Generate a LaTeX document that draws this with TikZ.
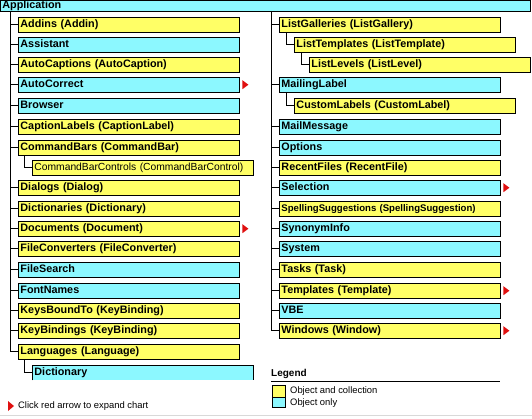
\documentclass[tikz,border=0pt]{standalone}
\usepackage{fontspec}
\setmainfont{Liberation Sans}
\usetikzlibrary{calc}
\definecolor{ycol}{HTML}{FFFF66}
\definecolor{ccol}{HTML}{8CF8FF}
\definecolor{arrowred}{HTML}{E01010}
\newcommand\redarr[1]{\fill[arrowred] ($(#1.east)+(2.5,-4.5)$) -- ++(6,4.5) -- ++(-6,4.5) -- cycle;}
\tikzset{
  obj/.style={draw=black, line width=0.9pt, minimum height=14.5pt, minimum width=221pt,
    text width=217pt, inner xsep=1.5pt, inner ysep=0pt, align=left, anchor=north west,
    font=\fontsize{10.8}{11}\selectfont\bfseries, text height=7.6pt, text depth=2pt},
  coll/.style={obj, fill=ycol},
  only/.style={obj, fill=ccol},
  plain/.style={font=\fontsize{9.4}{10}\selectfont},
  conn/.style={draw=black, line width=0.9pt},
}
\begin{document}
\begin{tikzpicture}[x=1pt,y=-1pt]
\useasboundingbox (0,0) rectangle (532,418);
\fill[white] (0,0) rectangle (532,418);
\draw[gray!30, line width=1pt] (0,415.5) -- (532,415.5);
% application bar
\node[draw=black, line width=0.9pt, fill=ccol, anchor=north west, minimum width=530pt, minimum height=11pt,
  inner sep=0pt, text width=526pt, inner xsep=2pt, align=left, font=\fontsize{10.8}{11}\selectfont\bfseries,
  text height=6.5pt, text depth=1pt] (app) at (0,0) {Application};
\coordinate (LT) at (10,11);
\coordinate (RT) at (271,11);
% left column
\node[coll] (addins) at (18,17) {Addins (Addin)};
\node[only] (assistant) at (18,37) {Assistant};
\node[coll] (autocap) at (18,57) {AutoCaptions (AutoCaption)};
\node[only] (autocorr) at (18,77) {AutoCorrect};
\node[only] (browser) at (18,98) {Browser};
\node[coll] (caplab) at (18,119) {CaptionLabels (CaptionLabel)};
\node[coll] (cmdbars) at (18,140) {CommandBars (CommandBar)};
\node[coll, font=\fontsize{10.3}{11}\selectfont] (cbc) at (32,160) {CommandBarControls (CommandBarControl)};
\node[coll] (dialogs) at (18,180) {Dialogs (Dialog)};
\node[coll] (dicts) at (18,201) {Dictionaries (Dictionary)};
\node[coll] (docs) at (18,221) {Documents (Document)};
\node[coll] (fileconv) at (18,241) {FileConverters (FileConverter)};
\node[only] (filesearch) at (18,262) {FileSearch};
\node[only] (fontnames) at (18,283) {FontNames};
\node[coll] (keysbound) at (18,303) {KeysBoundTo (KeyBinding)};
\node[coll] (keybind) at (18,323) {KeyBindings (KeyBinding)};
\node[coll] (langs) at (18,344) {Languages (Language)};
\node[only, draw=none] (dict) at (32,365) {Dictionary};
\draw[black, line width=0.9pt] (dict.south west) |- (dict.north east) -- (dict.south east);
% left connectors
\draw[conn] (LT) -- (langs.west -| LT);
\foreach \n in {addins,assistant,autocap,autocorr,browser,caplab,cmdbars,dialogs,dicts,docs,fileconv,filesearch,fontnames,keysbound,keybind,langs}
  \draw[conn] (\n.west -| LT) -- (\n.west);
\draw[conn] ($(cmdbars.south west)+(6,0)$) |- (cbc.west);
\draw[conn] ($(langs.south west)+(6,0)$) |- (dict.west);
% right column
\node[coll] (listgal) at (279,17) {ListGalleries (ListGallery)};
\node[coll] (listtpl) at (294,37) {ListTemplates (ListTemplate)};
\node[coll] (listlev) at (309,57) {ListLevels (ListLevel)};
\node[only] (mailing) at (279,77) {MailingLabel};
\node[coll] (custlab) at (294,98) {CustomLabels (CustomLabel)};
\node[only] (mailmsg) at (279,119) {MailMessage};
\node[only] (options) at (279,140) {Options};
\node[coll] (recent) at (279,160) {RecentFiles (RecentFile)};
\node[only] (selection) at (279,180) {Selection};
\node[coll, font=\fontsize{9.6}{11}\selectfont\bfseries] (spelling) at (279,201) {SpellingSuggestions (SpellingSuggestion)};
\node[only] (synonym) at (279,221) {SynonymInfo};
\node[only] (system) at (279,241) {System};
\node[coll] (tasks) at (279,262) {Tasks (Task)};
\node[coll] (templates) at (279,283) {Templates (Template)};
\node[only] (vbe) at (279,303) {VBE};
\node[coll] (windows) at (279,323) {Windows (Window)};
% right connectors
\draw[conn] (RT) -- (windows.west -| RT);
\foreach \n in {listgal,mailing,mailmsg,options,recent,selection,spelling,synonym,system,tasks,templates,vbe,windows}
  \draw[conn] (\n.west -| RT) -- (\n.west);
\draw[conn] ($(listgal.south west)+(7,0)$) |- (listtpl.west);
\draw[conn] ($(listtpl.south west)+(7,0)$) |- (listlev.west);
\draw[conn] ($(mailing.south west)+(7,0)$) |- (custlab.west);
% red arrows
\redarr{autocorr}
\redarr{docs}
\redarr{selection}
\redarr{templates}
\redarr{windows}
% legend
\node[anchor=south west, inner sep=0pt, font=\fontsize{10}{11}\selectfont\bfseries] (legend) at (271,379) {Legend};
\draw[black, line width=1pt] (271,381) -- (500,381);
\node[draw=black, line width=0.7pt, fill=ycol, anchor=north west, minimum width=13pt, minimum height=12pt, inner sep=0pt] (ybox) at (272,385) {};
\node[draw=black, line width=0.7pt, fill=ccol, anchor=north west, minimum width=13pt, minimum height=10pt, inner sep=0pt] (cbox) at (272,397) {};
\node[plain, anchor=west, inner sep=0pt] (ytext) at (290,391.5) {Object and collection};
\node[plain, anchor=west, inner sep=0pt] (ctext) at (290,403.5) {Object only};
% footnote
\coordinate (fa) at (8,401);
\fill[arrowred] (fa) -- ++(6,5) -- ++(-6,5) -- cycle;
\node[plain, anchor=west, inner sep=0pt] (foot) at (18,406) {Click red arrow to expand chart};
\end{tikzpicture}
\end{document}
